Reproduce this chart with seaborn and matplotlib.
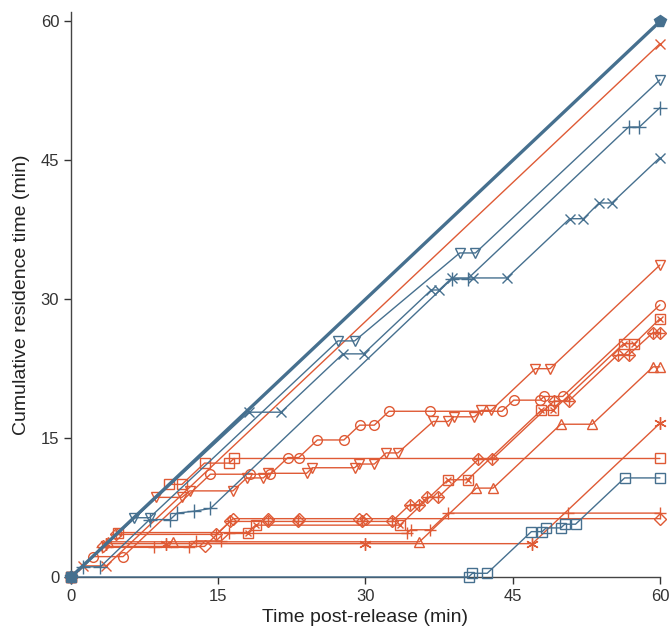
import matplotlib
matplotlib.use("Agg")
import matplotlib.pyplot as plt
import seaborn as sns

# ---------------- data (minutes) ----------------
BLUE = "#46708f"
RED = "#df5a35"

# blue fish
b_full_x = [0, 60]
b_full_y = [0, 60]
b_tri_x = [0, 6.4, 8.0, 27.2, 28.9, 39.6, 41.2, 60]
b_tri_y = [0, 6.4, 6.4, 25.5, 25.5, 35.0, 35.0, 53.7]
b_plus_x = [0, 1.2, 3.0, 8.0, 10.1, 10.8, 12.5, 14.2, 38.8, 40.4, 56.8, 57.9, 60]
b_plus_y = [0, 1.1, 1.1, 6.2, 6.2, 6.9, 7.1, 7.4, 32.2, 32.2, 48.6, 48.6, 50.7]
b_x_x = [0, 18.1, 21.4, 27.7, 29.8, 36.7, 37.5, 38.8, 41.0, 44.4, 50.8, 52.2, 53.8, 55.1, 60]
b_x_y = [0, 17.8, 17.8, 24.1, 24.1, 31.0, 31.0, 32.3, 32.3, 32.3, 38.7, 38.7, 40.4, 40.4, 45.3]
b_sq_x = [0, 40.5, 40.9, 42.4, 46.9, 48.0, 48.4, 49.9, 50.3, 51.4, 56.4, 60]
b_sq_y = [0, 0, 0.4, 0.4, 4.9, 4.9, 5.3, 5.3, 5.7, 5.7, 10.7, 10.7]

# red fish
r_x_x = [0, 1.2, 3.6, 60]
r_x_y = [0, 1.2, 1.2, 57.6]
r_tri_x = [0, 8.7, 11.3, 12.1, 16.5, 17.9, 19.6, 20.1, 24.0, 24.6, 28.9, 29.3, 30.9,
           32.1, 33.3, 36.9, 38.4, 39.0, 41.1, 41.8, 42.8, 47.3, 48.8, 60]
r_tri_y = [0, 8.6, 8.6, 9.3, 9.3, 10.7, 10.7, 11.2, 11.2, 11.8, 11.8, 12.2, 12.2,
           13.4, 13.4, 16.8, 16.8, 17.3, 17.3, 18.0, 18.0, 22.5, 22.5, 33.7]
r_circ_x = [0, 2.2, 5.3, 14.2, 18.2, 20.3, 22.1, 23.2, 25.1, 27.8, 29.4, 30.9, 32.4,
            36.6, 43.9, 45.1, 47.8, 48.2, 50.1, 60]
r_circ_y = [0, 2.2, 2.2, 11.1, 11.1, 11.1, 12.9, 12.9, 14.8, 14.8, 16.4, 16.4, 17.9,
            17.9, 17.9, 19.1, 19.1, 19.5, 19.5, 29.4]
r_sq_x = [0, 10.0, 11.3, 13.6, 16.1, 16.6, 60]
r_sq_y = [0, 10.0, 10.0, 12.3, 12.3, 12.8, 12.8]
r_sqx_x = [0, 4.8, 18.0, 18.8, 33.5, 38.4, 40.4, 47.9, 49.1, 56.3, 57.4, 60]
r_sqx_y = [0, 4.8, 4.8, 5.6, 5.6, 10.5, 10.5, 18.0, 18.0, 25.2, 25.2, 27.9]
r_dplus_x = [0, 4.6, 14.8, 16.2, 20.1, 23.1, 29.6, 32.7, 34.5, 35.5, 36.3, 37.4,
             41.5, 42.9, 49.2, 50.7, 55.7, 56.8, 59.3, 60]
r_dplus_y = [0, 4.6, 4.6, 6.0, 6.0, 6.0, 6.0, 6.0, 7.8, 7.8, 8.6, 8.6,
             12.7, 12.7, 19.0, 19.0, 24.0, 24.0, 26.4, 26.4]
r_diam_x = [0, 3.3, 13.6, 16.5, 20.1, 23.2, 29.3, 30.1, 60]
r_diam_y = [0, 3.3, 3.3, 6.3, 6.3, 6.3, 6.3, 6.3, 6.3]
r_plus_x = [0, 3.2, 8.5, 12.0, 12.7, 15.3, 16.1, 34.2, 34.6, 36.6, 38.4, 50.6, 60]
r_plus_y = [0, 3.2, 3.2, 3.2, 3.9, 3.9, 4.7, 4.7, 5.1, 5.1, 6.9, 6.9, 6.9]
r_ast_x = [0, 3.6, 9.7, 29.9, 47.0, 60]
r_ast_y = [0, 3.6, 3.6, 3.6, 3.6, 16.6]
r_up_x = [0, 3.8, 10.4, 35.5, 41.3, 43.0, 49.9, 53.1, 59.3, 60]
r_up_y = [0, 3.8, 3.8, 3.8, 9.6, 9.6, 16.5, 16.5, 22.7, 22.7]

x_ticks = [0, 15, 30, 45, 60]
y_ticks = [0, 15, 30, 45, 60]
x_label = "Time post-release (min)"
y_label = "Cumulative residence time (min)"

# ---------------- style ----------------
sns.set_theme(style="ticks")
plt.rcParams["font.family"] = ["Liberation Sans", "DejaVu Sans"]

fig = plt.figure(figsize=(6.7, 6.31), dpi=100)
ax = fig.add_axes([0.106, 0.0856, 0.879, 0.895])

MS = 7


def draw(xs, ys, color, marker, lw=1.0, ms=MS, filled=False, z=2):
    sns.lineplot(x=xs, y=ys, sort=False, estimator=None, ax=ax, color=color,
                 linewidth=lw, marker=marker, markersize=ms,
                 markerfacecolor=color if filled else "none",
                 markeredgecolor=color, markeredgewidth=1.0,
                 clip_on=False, zorder=z)


def overlay(xs, ys, color, marker, ms=MS, z=3):
    sns.lineplot(x=xs, y=ys, sort=False, estimator=None, ax=ax, color=color,
                 linestyle="none", marker=marker, markersize=ms,
                 markerfacecolor="none", markeredgecolor=color,
                 markeredgewidth=1.0, clip_on=False, zorder=z)


# red fish
draw(r_x_x, r_x_y, RED, "x")
draw(r_tri_x, r_tri_y, RED, "v")
draw(r_circ_x, r_circ_y, RED, "o")
draw(r_sq_x, r_sq_y, RED, "s")
draw(r_sqx_x, r_sqx_y, RED, "s")
overlay(r_sqx_x, r_sqx_y, RED, "x", ms=5)
draw(r_dplus_x, r_dplus_y, RED, "D", ms=6.5)
overlay(r_dplus_x, r_dplus_y, RED, "+", ms=7)
draw(r_diam_x, r_diam_y, RED, "D", ms=6.5)
draw(r_plus_x, r_plus_y, RED, "+", ms=9)
draw(r_ast_x, r_ast_y, RED, (6, 2, 0), ms=9)
draw(r_up_x, r_up_y, RED, "^")

# blue fish
draw(b_sq_x, b_sq_y, BLUE, "s", z=3)
draw(b_x_x, b_x_y, BLUE, "x", z=3)
draw(b_plus_x, b_plus_y, BLUE, "+", ms=10, z=3)
draw(b_tri_x, b_tri_y, BLUE, "v", z=3)
draw(b_full_x, b_full_y, BLUE, "p", lw=2.4, ms=8.5, filled=True, z=4)

# ---------------- axes ----------------
ax.set_xlim(0, 60)
ax.set_ylim(0, 61)
ax.set_xticks(x_ticks)
ax.set_yticks(y_ticks)
ax.set_xlabel(x_label, fontsize=14, color="#222222", labelpad=4)
ax.set_ylabel(y_label, fontsize=14, color="#222222", labelpad=8)
ax.tick_params(axis="both", labelsize=12, colors="#333333", length=5,
               width=1, direction="out")
for side in ["top", "right"]:
    ax.spines[side].set_visible(False)
for side in ["left", "bottom"]:
    ax.spines[side].set_color("#444444")
    ax.spines[side].set_linewidth(1.0)
ax.set_facecolor("white")
fig.patch.set_facecolor("white")

fig.savefig("out.png", dpi=100)
